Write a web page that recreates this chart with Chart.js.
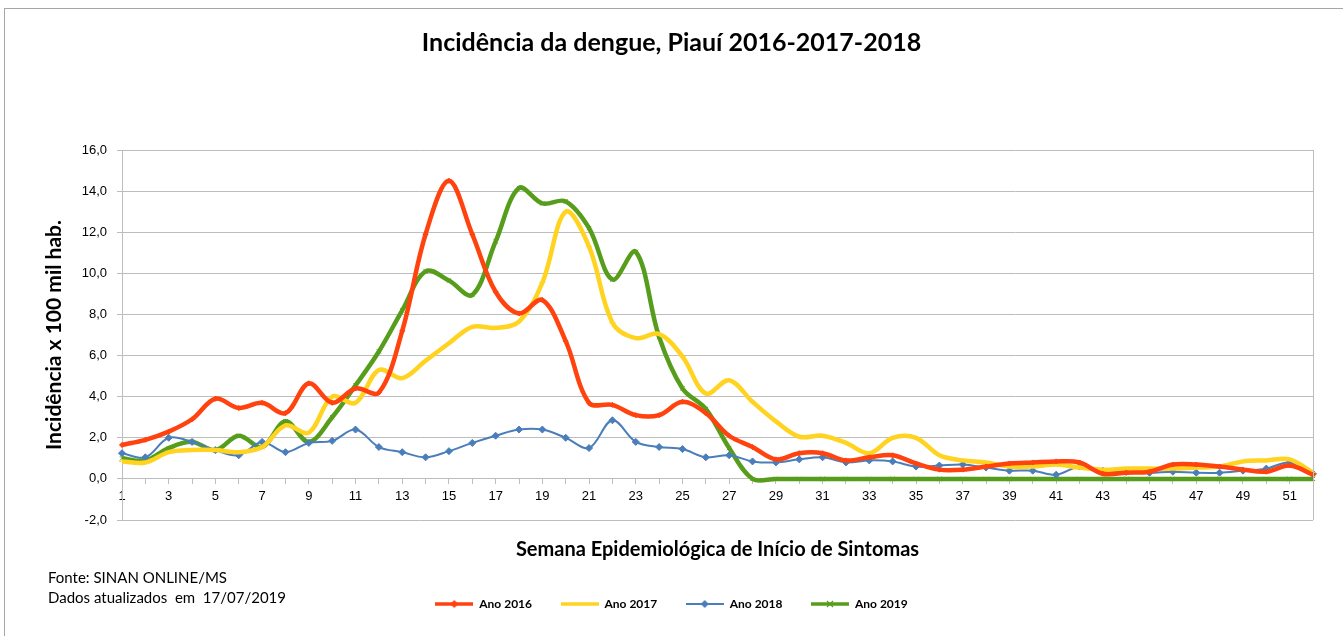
<!DOCTYPE html>
<html lang="pt-BR">
<head>
<meta charset="utf-8">
<title>Incidência da dengue, Piauí</title>
<script src="https://cdn.jsdelivr.net/npm/chart.js@4.4.1/dist/chart.umd.min.js"></script>
<style>
  html, body { margin: 0; padding: 0; background: #fff; }
  #wrap { position: relative; width: 1343px; height: 636px; }
</style>
</head>
<body>
<div id="wrap"><canvas id="chartDengue" width="1343" height="636"></canvas></div>
<script>
// ---------- dados ----------
const semanas = ['1','2','3','4','5','6','7','8','9','10','11','12','13','14','15','16','17','18','19','20',
  '21','22','23','24','25','26','27','28','29','30','31','32','33','34','35','36','37','38','39','40',
  '41','42','43','44','45','46','47','48','49','50','51','52'];

const ano2016 = [1.65,1.9,2.3,2.9,3.9,3.45,3.7,3.2,4.65,3.7, 4.4,4.2,7.2,11.9,14.5,11.9,9.1,8.05,8.7,6.7,
  3.7,3.6,3.1,3.1,3.75,3.2,2.1,1.55,0.95,1.25, 1.25,0.9,1.05,1.15,0.75,0.45,0.45,0.6,0.75,0.8,
  0.85,0.8,0.25,0.3,0.35,0.7,0.7,0.6,0.45,0.35, 0.65,0.2];

const ano2017 = [0.85,0.8,1.3,1.4,1.4,1.3,1.55,2.6,2.25,4.0, 3.7,5.3,4.9,5.75,6.6,7.4,7.35,7.65,9.55,13.0,
  11.3,7.6,6.85,7.05,5.95,4.15,4.8,3.75,2.8,2.05, 2.1,1.75,1.25,2.0,2.0,1.15,0.9,0.8,0.6,0.6,
  0.7,0.55,0.45,0.5,0.5,0.5,0.55,0.6,0.85,0.9, 0.95,0.3];

const ano2018 = [1.25,1.05,2.0,1.8,1.4,1.15,1.8,1.3,1.75,1.85, 2.4,1.55,1.3,1.05,1.35,1.75,2.1,2.4,2.4,2.0,
  1.5,2.85,1.8,1.55,1.45,1.05,1.15,0.85,0.8,0.95, 1.05,0.8,0.9,0.85,0.6,0.65,0.7,0.55,0.4,0.4,
  0.2,0.6,0.4,0.35,0.3,0.35,0.3,0.3,0.4,0.5, 0.8,0.25];

const ano2019 = [1.0,0.9,1.5,1.8,1.4,2.1,1.55,2.8,1.8,3.0, 4.55,6.2,8.2,10.1,9.65,8.95,11.55,14.15,13.4,13.5,
  12.2,9.7,11.05,6.9,4.4,3.4,1.5,0,0,0, 0,0,0,0,0,0,0,0,0,0,
  0,0,0,0,0,0,0,0,0,0, 0,0];

const tituloGrafico = 'Incidência da dengue, Piauí 2016-2017-2018';
const tituloEixoY = 'Incidência x 100 mil hab.';
const tituloEixoX = 'Semana Epidemiológica de Início de Sintomas';
const notasRodape = ['Fonte: SINAN ONLINE/MS', 'Dados atualizados  em  17/07/2019'];

// ---------- estilos ----------
const FONTE_TXT = "Lato, 'Open Sans', sans-serif";
const FONTE_EIXO = "'Liberation Sans', Arial, sans-serif";
const CINZA = '#bdbdbd';

const series = [
  { label: 'Ano 2016', data: ano2016, cor: '#ff420e', largura: 4.5, marcador: 'rectRot', raio: 2.5 },
  { label: 'Ano 2017', data: ano2017, cor: '#ffd320', largura: 4.5, marcador: 'line', raio: 3 },
  { label: 'Ano 2018', data: ano2018, cor: '#4a7ebb', largura: 2, marcador: 'rectRot', raio: 3.5 },
  { label: 'Ano 2019', data: ano2019, cor: '#579d1c', largura: 4.5, marcador: 'crossRot', raio: 3 }
];

// amostra da legenda: linha + marcador desenhados num canvas pequeno
function amostraLegenda(s) {
  const c = document.createElement('canvas');
  c.width = 38; c.height = 10;
  const g = c.getContext('2d');
  g.strokeStyle = s.cor;
  g.fillStyle = s.cor;
  g.lineWidth = s.largura > 3 ? 3.5 : 2;
  g.beginPath(); g.moveTo(0, 5); g.lineTo(38, 5); g.stroke();
  g.lineWidth = 1.2;
  if (s.marcador === 'rectRot') {
    g.beginPath(); g.moveTo(19, 1); g.lineTo(23, 5); g.lineTo(19, 9); g.lineTo(15, 5); g.closePath(); g.fill();
  } else if (s.marcador === 'crossRot') {
    g.beginPath(); g.moveTo(16, 2); g.lineTo(22, 8); g.moveTo(22, 2); g.lineTo(16, 8); g.stroke();
  }
  return c;
}
const amostras = series.map(amostraLegenda);

const molduraPlugin = {
  id: 'moldura',
  beforeDraw(chart) {
    const ctx = chart.ctx;
    ctx.save();
    ctx.fillStyle = '#fff';
    ctx.fillRect(0, 0, chart.width, chart.height);
    ctx.strokeStyle = '#a6a6a6';
    ctx.lineWidth = 1;
    ctx.strokeRect(4.5, 8.5, chart.width + 10, chart.height + 10);
    ctx.restore();
  },
  afterDraw(chart) {
    const { ctx, chartArea } = chart;
    ctx.save();
    ctx.strokeStyle = CINZA;
    ctx.lineWidth = 1;
    const xr = Math.round(chartArea.right) + 0.5;
    ctx.beginPath();
    ctx.moveTo(xr, chartArea.top);
    ctx.lineTo(xr, chartArea.bottom);
    ctx.stroke();
    ctx.fillStyle = '#000';
    ctx.font = '15px ' + FONTE_TXT;
    ctx.textBaseline = 'middle';
    notasRodape.forEach((t, i) => ctx.fillText(t, 48, 578 + i * 20));
    ctx.restore();
  }
};

document.addEventListener('DOMContentLoaded', () => {
  const ctx = document.getElementById('chartDengue');

  new Chart(ctx.getContext('2d'), {
    type: 'line',
    data: {
      labels: semanas,
      datasets: series.map(s => ({
        label: s.label,
        data: s.data,
        xAxisID: 'x',
        borderColor: s.cor,
        backgroundColor: s.cor,
        borderWidth: s.largura,
        tension: 0.35,
        fill: false,
        pointStyle: s.marcador,
        pointRadius: s.raio,
        pointBorderWidth: 1,
        pointBackgroundColor: s.cor,
        pointBorderColor: s.cor
      }))
    },
    options: {
      responsive: false,
      animation: false,
      layout: { padding: { left: 30, right: 30, top: 10, bottom: 16 } },
      plugins: {
        title: {
          display: true,
          text: tituloGrafico,
          color: '#000',
          font: { family: FONTE_TXT, size: 25, weight: 'bold' },
          padding: { top: 18, bottom: 92 }
        },
        legend: {
          position: 'bottom',
          labels: {
            usePointStyle: true,
            pointStyleWidth: 38,
            padding: 28.5,
            color: '#000',
            font: { family: FONTE_TXT, size: 12, weight: 'bold' },
            generateLabels: (chart) => {
              const itens = Chart.defaults.plugins.legend.labels.generateLabels(chart);
              itens.forEach((it, i) => { it.pointStyle = amostras[i]; });
              return itens;
            }
          }
        },
        tooltip: { enabled: false }
      },
      scales: {
        x: {
          type: 'category',
          position: { y: 0 },
          offset: false,
          grid: { drawOnChartArea: false, drawTicks: true, tickLength: 5, color: CINZA },
          border: { display: true, color: CINZA },
          ticks: {
            color: '#000',
            font: { family: FONTE_EIXO, size: 13 },
            padding: 5,
            autoSkip: false,
            maxRotation: 0,
            callback: (v, i) => (i % 2 === 0 ? semanas[i] : '')
          }
        },
        xt: {
          axis: 'x',
          type: 'category',
          position: 'bottom',
          grid: { display: false, drawTicks: false },
          border: { display: false },
          ticks: { display: false },
          title: {
            display: true,
            text: tituloEixoX,
            color: '#000',
            font: { family: FONTE_TXT, size: 20, weight: 'bold' },
            padding: { top: 18, bottom: 7.5 }
          }
        },
        y: {
          min: -2,
          max: 16,
          afterFit: (scale) => { scale.width = 92; },
          grid: { color: CINZA, lineWidth: 1, tickLength: 5 },
          border: { display: true, color: CINZA },
          ticks: {
            stepSize: 2,
            color: '#000',
            padding: 10,
            font: { family: FONTE_EIXO, size: 13 },
            callback: (v) => Number(v).toFixed(1).replace('.', ',')
          },
          title: {
            display: true,
            text: tituloEixoY,
            color: '#000',
            font: { family: FONTE_TXT, size: 21, weight: 'bold' },
            padding: { top: 11.4, bottom: 0 }
          }
        }
      }
    },
    plugins: [molduraPlugin]
  });
});
</script>
</body>
</html>
